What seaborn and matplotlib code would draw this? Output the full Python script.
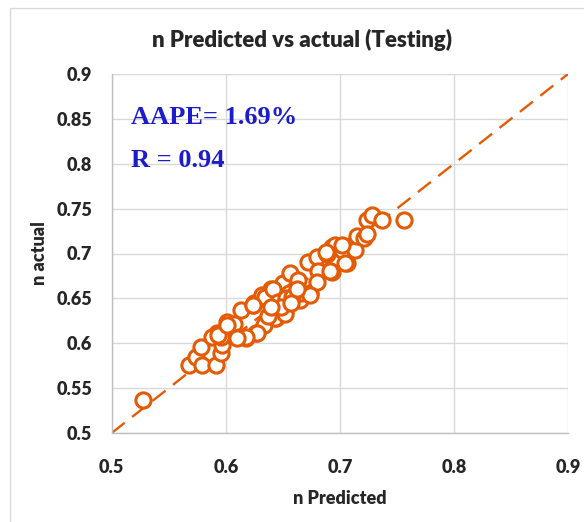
import matplotlib
matplotlib.use("Agg")
import matplotlib.pyplot as plt
import seaborn as sns
import pandas as pd
from matplotlib.patches import Rectangle

# ---- data ----
predicted = [0.527, 0.568, 0.5735, 0.578, 0.579, 0.591, 0.5956, 0.5926, 0.588, 0.5965,
             0.6015, 0.607, 0.613, 0.6236, 0.612, 0.618, 0.6265, 0.6336, 0.6442, 0.651,
             0.625, 0.632, 0.6398, 0.6487, 0.650, 0.6516, 0.656, 0.660, 0.6634, 0.665,
             0.672, 0.6737, 0.6796, 0.681, 0.6796, 0.6885, 0.693, 0.693, 0.706, 0.6957,
             0.7016, 0.7047, 0.712, 0.7135, 0.715, 0.721, 0.7239, 0.7239, 0.728, 0.737,
             0.7564, 0.634, 0.643, 0.652, 0.655, 0.666, 0.674, 0.641, 0.627, 0.618,
             0.624, 0.645, 0.637, 0.688, 0.691, 0.702, 0.610, 0.646, 0.653, 0.658,
             0.662, 0.648, 0.640, 0.657, 0.596, 0.593, 0.601]
actual = [0.537, 0.576, 0.585, 0.596, 0.576, 0.576, 0.589, 0.611, 0.607, 0.598,
          0.624, 0.622, 0.637, 0.6426, 0.607, 0.606, 0.611, 0.620, 0.628, 0.6335,
          0.6445, 0.6537, 0.661, 0.6556, 0.6667, 0.635, 0.678, 0.659, 0.670, 0.648,
          0.6907, 0.6556, 0.6963, 0.680, 0.6685, 0.700, 0.7074, 0.6796, 0.689, 0.709,
          0.7037, 0.689, 0.711, 0.7037, 0.720, 0.717, 0.737, 0.722, 0.7426, 0.737,
          0.737, 0.652, 0.628, 0.633, 0.656, 0.656, 0.654, 0.661, 0.611, 0.607,
          0.643, 0.640, 0.630, 0.702, 0.680, 0.709, 0.606, 0.646, 0.650, 0.652,
          0.660, 0.640, 0.640, 0.645, 0.607, 0.609, 0.620]
diag = [0.5, 0.9]
x_ticks = [0.5, 0.6, 0.7, 0.8, 0.9]
y_ticks = [0.5, 0.55, 0.6, 0.65, 0.7, 0.75, 0.8, 0.85, 0.9]
x_ticklabels = ["0.5", "0.6", "0.7", "0.8", "0.9"]
y_ticklabels = ["0.5", "0.55", "0.6", "0.65", "0.7", "0.75", "0.8", "0.85", "0.9"]
title = "n Predicted vs actual (Testing)"
xlabel = "n Predicted"
ylabel = "n actual"
stat1 = "AAPE= 1.69%"
stat2 = "R = 0.94"

df = pd.DataFrame({"pred": predicted, "act": actual})

sns.set_theme(style="white")
plt.rcParams["font.family"] = ["Lato", "DejaVu Sans"]

ORANGE = "#E35B05"
fig = plt.figure(figsize=(5.84, 5.22), dpi=100)
fig.patches.append(Rectangle((10/584, -0.1), 1.2, 1.1 - 8/522, transform=fig.transFigure,
                             fill=False, edgecolor="#D9D9D9", linewidth=1.0))
ax = fig.add_axes([111.7/584, 1 - 433/522, (568 - 111.7)/584, (433 - 74)/522])

sns.lineplot(x=diag, y=diag, ax=ax, color=ORANGE, linewidth=1.7, dashes=False, zorder=2)
ax.lines[-1].set_dashes((7, 4))
sns.scatterplot(data=df, x="pred", y="act", ax=ax, s=120, facecolor="white",
                edgecolor=ORANGE, linewidth=2.2, zorder=3)

ax.set_xlim(0.5, 0.9)
ax.set_ylim(0.5, 0.9)
ax.set_xticks(x_ticks)
ax.set_yticks(y_ticks)
ax.set_xticklabels(x_ticklabels, fontsize=13, fontweight="heavy")
ax.set_yticklabels(y_ticklabels, fontsize=13, fontweight="heavy")
ax.tick_params(axis="x", length=0, pad=19)
ax.tick_params(axis="y", length=0, pad=14)
ax.grid(True, color="#D9D9D9", linewidth=1.0)
ax.set_axisbelow(True)
for s in ["top", "right"]:
    ax.spines[s].set_visible(False)
for s in ["left", "bottom"]:
    ax.spines[s].set_color("#BFBFBF")
    ax.spines[s].set_linewidth(1.0)

ax.set_xlabel(xlabel, fontsize=13, fontweight="heavy", labelpad=10)
ax.set_ylabel(ylabel, fontsize=13, fontweight="heavy", labelpad=6)
fig.text(302/584, 1 - 40/522, title, ha="center", va="center", fontsize=16, fontweight="heavy")

ax.text(0.517, 0.852, stat1, ha="left", va="center", fontsize=19, fontweight="bold",
        color="#1C1CC8", family=["Liberation Serif", "DejaVu Serif"])
ax.text(0.517, 0.804, stat2, ha="left", va="center", fontsize=19, fontweight="bold",
        color="#1C1CC8", family=["Liberation Serif", "DejaVu Serif"])

fig.savefig("out.png", dpi=100)
